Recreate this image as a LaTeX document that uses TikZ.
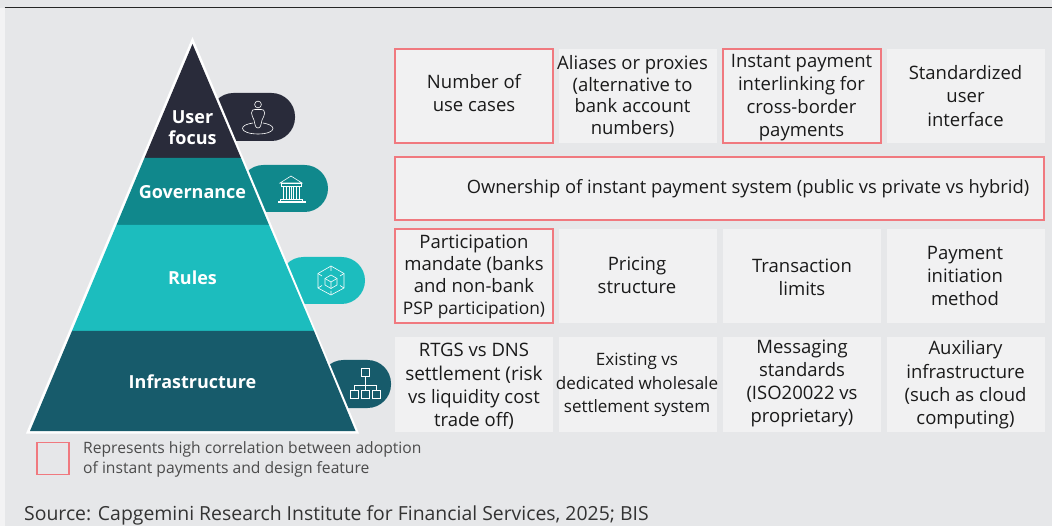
\documentclass[tikz,border=0pt]{standalone}
\usepackage{fontspec}
\setmainfont{Open Sans}
\definecolor{bgc}{HTML}{E6E7E9}
\definecolor{boxc}{HTML}{F1F1F2}
\definecolor{redc}{HTML}{F0797F}
\definecolor{navy}{HTML}{292B3A}
\definecolor{gov}{HTML}{10888C}
\definecolor{rul}{HTML}{1CBDBE}
\definecolor{inf}{HTML}{175B6B}
\definecolor{txt}{HTML}{1A1A1A}
\tikzset{
 cell/.style={draw=none,fill=boxc,minimum width=158pt,minimum height=94pt,inner sep=0pt},
 hot/.style={cell,draw=redc,line width=1.5pt,outer sep=0pt},
 lab/.style={align=center,inner sep=0pt,text=txt,font=\fontsize{18.5}{#1}\selectfont},
 lab/.default=23,
 labs/.style={align=center,inner sep=0pt,text=txt,font=\fontsize{17.05}{23.5}\selectfont},
 labo/.style={align=center,inner sep=0pt,text=txt,font=\fontsize{18.35}{23}\selectfont},
 tier/.style={text=white,align=center,font=\fontsize{18}{21}\selectfont\bfseries,inner sep=0pt},
 pill/.style={rounded corners=23.5pt,draw=none},
 ico/.style={draw=white,line width=.6pt,fill=none},
 note/.style={anchor=west,align=left,inner sep=0pt,text=black!70,font=\fontsize{15.65}{20}\selectfont},
}
\begin{document}
\begin{tikzpicture}[x=1pt,y=-1pt]
\useasboundingbox (0,0) rectangle (1052,526);
\fill[bgc] (0,0) rectangle (1052,526);
\fill[white!50!bgc] (0,8) rectangle (4.5,526);
\draw[black!85,line width=1.3pt] (4.5,7.7) -- (1052,7.7);
% pills
\fill[navy,pill] (210,93) rectangle (295,141);
\fill[gov,pill] (240,165) rectangle (328,212);
\fill[rul,pill] (280,257) rectangle (365,304);
\fill[inf,pill] (320,360) rectangle (391,408);
% pyramid
\fill[white] (192.5,37) -- (359,433.5) -- (26,433.5) -- cycle;
\fill[navy] (192.5,44) -- (241,158) -- (144.5,158) -- cycle;
\fill[gov] (144.5,158) -- (241,158) -- (269,225) -- (116.5,225) -- cycle;
\fill[rul] (116.5,225) -- (269,225) -- (314,331) -- (72,331) -- cycle;
\fill[inf] (72,331) -- (314,331) -- (355.5,431) -- (30,431) -- cycle;
\node[tier] (t1) at (192.5,128) {User\\focus};
\node[tier] (t2) at (192.5,192.5) {Governance};
\node[tier] (t3) at (192.5,277.5) {Rules};
\node[tier] (t4) at (192.5,381.5) {Infrastructure};
% person icon
\draw[ico] (258,104.5) circle (3.4);
\draw[ico] (258,128) .. controls (255,128) and (255,124) .. (254,120) .. controls (253,117) and (251.5,116) .. (251.5,113) .. controls (251.5,110) and (253,109.5) .. (255,109.5) -- (261,109.5) .. controls (263,109.5) and (264.7,110) .. (264.7,113) .. controls (264.7,116) and (263,117) .. (262,120) .. controls (261,124) and (261,128) .. (258,128) -- cycle;
\draw[ico] (253,123) .. controls (246,124) and (242.5,126) .. (242.5,128.5) .. controls (242.5,131.5) and (249,134) .. (258,134) .. controls (267,134) and (273,131.5) .. (273,128.5) .. controls (273,126) and (269,124) .. (263,123);
% bank icon
\draw[ico] (280,183) -- (291,176) -- (302,183) -- cycle;
\draw[ico] (281,183) rectangle (301,186);
\foreach \xx in {283,286,289,291,293,296,299} \draw[ico] (\xx,186) -- (\xx,199);
\draw[ico] (280,199) rectangle (302,201);
\draw[ico] (278,201) rectangle (305,202.5);
% cube icon
\draw[ico] (331,266) -- (344,273.5) -- (344,288) -- (331,295) -- (318,288) -- (318,273.5) -- cycle;
\draw[ico] (331,275) -- (337,278.5) -- (337,285) -- (331,288.5) -- (325,285) -- (325,278.5) -- cycle;
\draw[ico] (325,278.5) -- (331,282) -- (337,278.5) (331,282) -- (331,288.5);
\draw[ico] (331,266) -- (331,271) (318,273.5) -- (322,276) (344,273.5) -- (340,276) (318,288) -- (322,285.5) (344,288) -- (340,285.5) (331,295) -- (331,291);
% hierarchy icon
\draw[ico] (361,368.5) rectangle (369.5,376.5);
\draw[ico] (350,390.5) rectangle (358.5,398.5);
\draw[ico] (361,390.5) rectangle (369.5,398.5);
\draw[ico] (372,390.5) rectangle (380.5,398.5);
\draw[ico] (365,376.5) -- (365,390.5) (354,390.5) -- (354,385) -- (376,385) -- (376,390.5);
% row 1
\node[hot] (a1) at (474,96) {};
\node[lab] (a1t) at (474,93.5) {Number of\\use cases};
\node[cell] (a2) at (638,96) {};
\node[lab=21.7] (a2t) at (632.5,96.5) {Aliases or proxies\\(alternative to\\bank account\\numbers)};
\node[hot] (a3) at (802,96) {};
\node[lab] (a3t) at (801.5,98) {Instant payment\\interlinking for\\cross-border\\payments};
\node[cell] (a4) at (965.5,96) {};
\node[lab=23.5] (a4t) at (965.5,96) {Standardized\\user\\interface};
% row 2
\node[hot,minimum width=649pt,minimum height=63pt] (b1) at (719.5,188.5) {};
\node[labo] (b1t) at (748,189) {Ownership of instant payment system (public vs private vs hybrid)};
% row 3
\node[hot] (c1) at (474,276) {};
\node[lab=22] (c1t) at (474,277) {Participation\\mandate (banks\\and non-bank\\{\fontsize{17.3}{22}\selectfont PSP participation)}};
\node[cell] (c2) at (638,276) {};
\node[lab] (c2t) at (637,275) {Pricing\\structure};
\node[cell] (c3) at (802,276) {};
\node[lab] (c3t) at (802,277) {Transaction\\limits};
\node[cell] (c4) at (965.5,276) {};
\node[lab] (c4t) at (965,275.5) {Payment\\initiation\\method};
% row 4
\node[cell,minimum height=95pt] (d1) at (474,384.5) {};
\node[lab=23.4] (d1t) at (474,386.5) {RTGS vs DNS\\{\fontsize{19}{23.4}\selectfont settlement (risk}\\vs liquidity cost\\trade off)};
\node[cell,minimum height=95pt] (d2) at (638,384.5) {};
\node[labs] (d2t) at (637,385) {Existing vs\\dedicated wholesale\\settlement system};
\node[cell,minimum height=95pt] (d3) at (802,384.5) {};
\node[lab] (d3t) at (802,383.5) {Messaging\\standards\\(ISO20022 vs\\proprietary)};
\node[cell,minimum height=95pt] (d4) at (965.5,384.5) {};
\node[lab=23.3] (d4t) at (965.5,385) {Auxiliary\\infrastructure\\(such as cloud\\computing)};
% legend
\node[draw=redc,line width=1.5pt,minimum width=32pt,minimum height=32pt,inner sep=0pt] (lg) at (53,458.5) {};
\node[note] (lt) at (83,459.5) {Represents high correlation between adoption\\of instant payments and design feature};
\node[anchor=west,inner sep=0pt,text=black!80,font=\fontsize{19.4}{22}\selectfont] (src) at (24,515) {Source: Capgemini Research Institute for Financial Services, 2025; BIS};
\end{tikzpicture}
\end{document}
